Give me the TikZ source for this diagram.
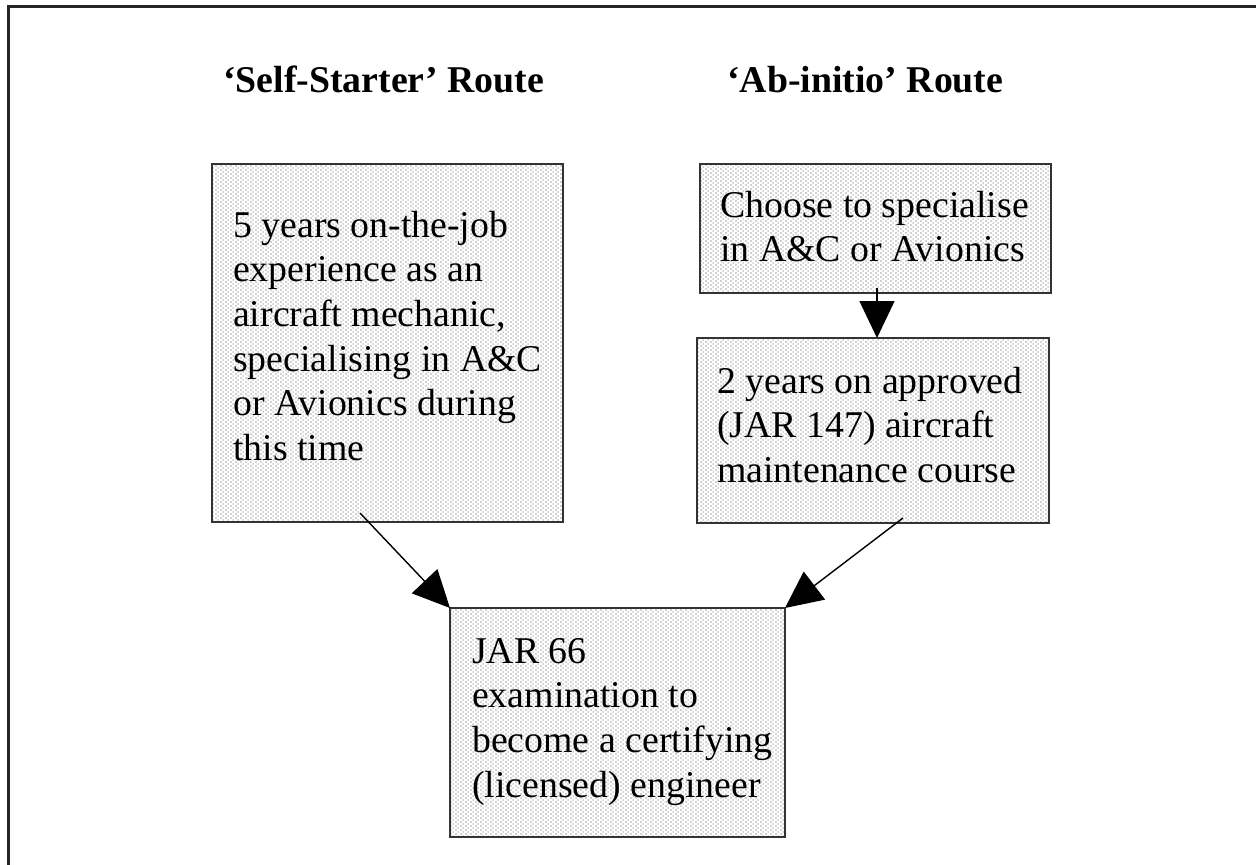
\documentclass[tikz,border=0pt]{standalone}
\usepackage{fontspec}
\setmainfont{Liberation Serif}
\usetikzlibrary{arrows.meta,patterns.meta}

% fine stipple used to shade the boxes
\pgfdeclarepattern{
  name=fine dots, type=colored,
  bottom left={\pgfpoint{0pt}{0pt}}, top right={\pgfpoint{5pt}{4.4pt}},
  tile size={\pgfpoint{5pt}{4.4pt}},
  code={\pgfsetfillcolor{black!40}
    \pgfpathrectangle{\pgfpoint{0.5pt}{0.5pt}}{\pgfpoint{1.3pt}{1.3pt}}
    \pgfpathrectangle{\pgfpoint{3pt}{2.7pt}}{\pgfpoint{1.3pt}{1.3pt}}
    \pgfusepath{fill}}
}

% fixes the height of the first line of every text block
\newcommand\firstlinestrut{\rule{0pt}{30pt}}

\begin{document}
\begin{tikzpicture}[x=1pt,y=-1pt,
  box/.style={draw=black!80, line width=1.5pt, pattern=fine dots, inner sep=0pt, outer sep=0pt},
  body/.style={anchor=north west, inner sep=0pt, align=left,
               font=\fontsize{37.8}{44.6}\selectfont},
  heading/.style={anchor=base west, inner sep=0pt,
                  font=\fontsize{37.8}{44.6}\selectfont\bfseries},
  link/.style={line width=1.4pt, black, -{Triangle[length=37pt,width=35pt]}}]

\clip (0,0) rectangle (1256,865);
\fill[white] (0,0) rectangle (1256,865);

% outer frame
\draw[line width=2.5pt, black!85] (8.5,880) -- (8.5,6.5) -- (1270,6.5);

% headings
\node[heading] (selfhead) at (223,92) {‘Self-Starter’ Route};
\node[heading] (abhead) at (727,92) {‘Ab-initio’ Route};

% boxes
\node[box, minimum width=351pt, minimum height=358pt] (selfbox) at (387.5,343) {};
\node[box, minimum width=351pt, minimum height=129pt] (choosebox) at (875.5,228.5) {};
\node[box, minimum width=352pt, minimum height=185pt] (coursebox) at (873,430.5) {};
\node[box, minimum width=335pt, minimum height=229pt] (exambox) at (617.5,722.5) {};

% box texts
\node[body] (selftext) at (233,207) {\firstlinestrut 5 years on-the-job\\experience as an\\aircraft mechanic,\\specialising in A\&C\\or Avionics during\\this time};
\node[body] (choosetext) at (720,187) {\firstlinestrut Choose to specialise\\in A\&C or Avionics};
\node[body] (coursetext) at (717,363) {\firstlinestrut 2 years on approved\\(JAR 147) aircraft\\maintenance course};
\node[body] (examtext) at (472,633) {\firstlinestrut JAR 66\\examination to\\become a certifying\\(licensed) engineer};

% connectors
\coordinate (choosestart) at (877,288);
\coordinate (selfstart) at (360,513);
\coordinate (coursestart) at (903,518);
\draw[link] (choosestart) -- (coursebox.north -| choosestart);
\draw[link] (selfstart) -- (exambox.north west);
\draw[link] (coursestart) -- (exambox.north east);
\end{tikzpicture}
\end{document}
